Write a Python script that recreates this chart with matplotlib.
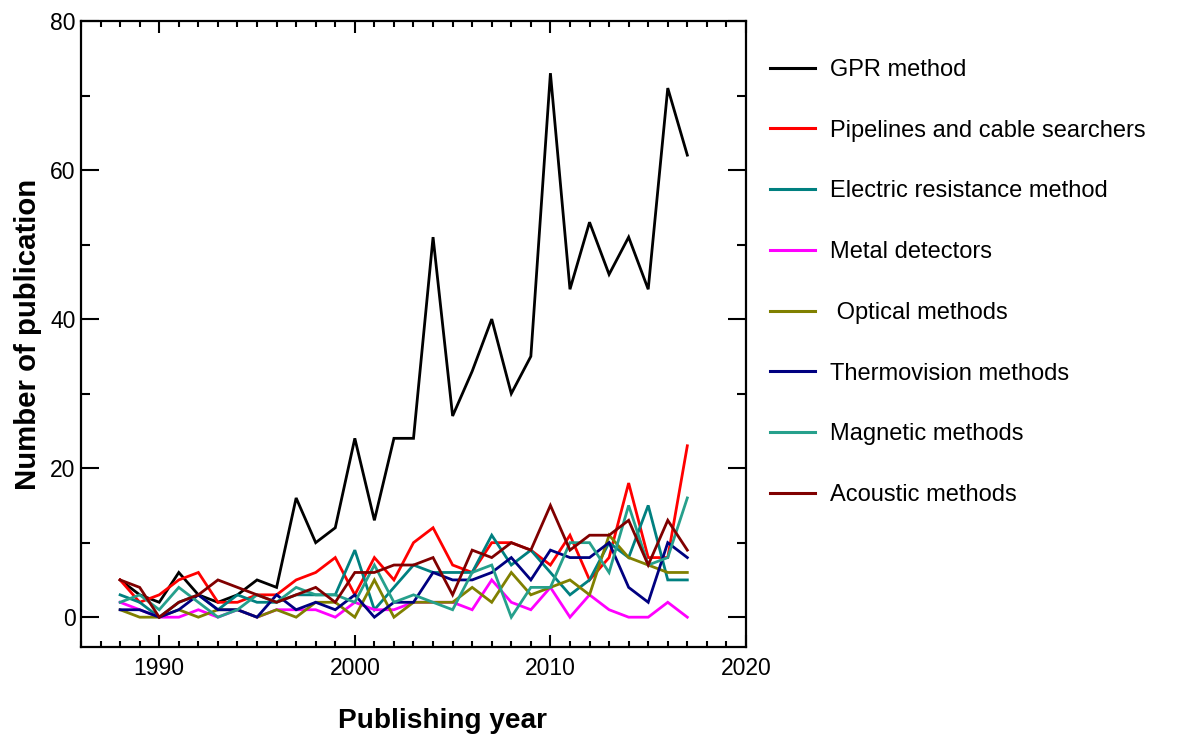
import matplotlib
matplotlib.use("Agg")
import matplotlib.pyplot as plt
from matplotlib.ticker import MultipleLocator

plt.rcParams['font.family'] = ['Liberation Sans', 'DejaVu Sans']

years = list(range(1988, 2018))

gpr = [5, 3, 2, 6, 3, 2, 3, 5, 4, 16, 10, 12, 24, 13, 24, 24, 51, 27, 33, 40,
       30, 35, 73, 44, 53, 46, 51, 44, 71, 62]
pipelines = [5, 2, 3, 5, 6, 2, 2, 3, 3, 5, 6, 8, 3, 8, 5, 10, 12, 7, 6, 10,
             10, 9, 7, 11, 5, 8, 18, 8, 8, 23]
electric = [3, 2, 0, 2, 3, 1, 3, 2, 2, 3, 3, 3, 9, 1, 4, 7, 6, 6, 6, 11,
            7, 9, 6, 3, 5, 10, 8, 15, 5, 5]
metal = [2, 1, 0, 0, 1, 0, 1, 0, 1, 1, 1, 0, 2, 1, 1, 2, 2, 2, 1, 5,
         2, 1, 4, 0, 3, 1, 0, 0, 2, 0]
optical = [1, 0, 0, 1, 0, 1, 1, 0, 1, 0, 2, 2, 0, 5, 0, 2, 2, 2, 4, 2,
           6, 3, 4, 5, 3, 11, 8, 7, 6, 6]
thermo = [1, 1, 0, 1, 3, 1, 1, 0, 3, 1, 2, 1, 3, 0, 2, 2, 6, 5, 5, 6,
          8, 5, 9, 8, 8, 10, 4, 2, 10, 8]
magnetic = [2, 3, 1, 4, 2, 0, 1, 3, 2, 4, 3, 3, 2, 7, 2, 3, 2, 1, 6, 7,
            0, 4, 4, 10, 10, 6, 15, 7, 8, 16]
acoustic = [5, 4, 0, 2, 3, 5, 4, 3, 2, 3, 4, 2, 6, 6, 7, 7, 8, 3, 9, 8,
            10, 9, 15, 9, 11, 11, 13, 7, 13, 9]

series = [
    ("GPR method", gpr, "#000000"),
    ("Pipelines and cable searchers", pipelines, "#ff0000"),
    ("Electric resistance method", electric, "#008080"),
    ("Metal detectors", metal, "#ff00ff"),
    (" Optical methods", optical, "#808000"),
    ("Thermovision methods", thermo, "#000080"),
    ("Magnetic methods", magnetic, "#26a08c"),
    ("Acoustic methods", acoustic, "#800000"),
]

fig = plt.figure(figsize=(11.91, 7.40), dpi=100)
ax = fig.add_axes([81 / 1191, 1 - 647 / 740, 665 / 1191, 626 / 740])

for label, vals, color in series:
    ax.plot(years, vals, color=color, lw=2.0, label=label, solid_joinstyle='miter')

ax.set_xlim(1986, 2020)
ax.set_ylim(-4, 80)
ax.xaxis.set_major_locator(MultipleLocator(10))
ax.xaxis.set_minor_locator(MultipleLocator(1))
ax.yaxis.set_major_locator(MultipleLocator(20))
ax.yaxis.set_minor_locator(MultipleLocator(10))
ax.set_yticks([0, 20, 40, 60, 80])

for side in ax.spines.values():
    side.set_linewidth(1.6)

ax.tick_params(axis='both', which='both', direction='in', top=True, right=True,
               width=1.5, labelsize=16.5)
ax.tick_params(axis='x', which='major', length=8.5, pad=7)
ax.tick_params(axis='x', which='minor', length=4.5)
ax.tick_params(axis='y', which='major', length=13, pad=4)
ax.tick_params(axis='y', which='minor', length=6.5)

ax.set_xlabel("Publishing year", fontsize=20.2, fontweight='bold')
ax.xaxis.set_label_coords(0.544, -0.097)
ax.set_ylabel("Number of publication", fontsize=21.2, fontweight='bold')
ax.yaxis.set_label_coords(-0.058, 0.5)

leg = ax.legend(loc='upper left', bbox_to_anchor=(770 / 1191, 1 - 59 / 740),
                bbox_transform=fig.transFigure, frameon=False, fontsize=17,
                handlelength=1.9, handletextpad=0.64, labelspacing=1.64,
                borderaxespad=0, borderpad=0)
for line in leg.get_lines():
    line.set_linewidth(2.2)

fig.savefig("out.png", dpi=100)
